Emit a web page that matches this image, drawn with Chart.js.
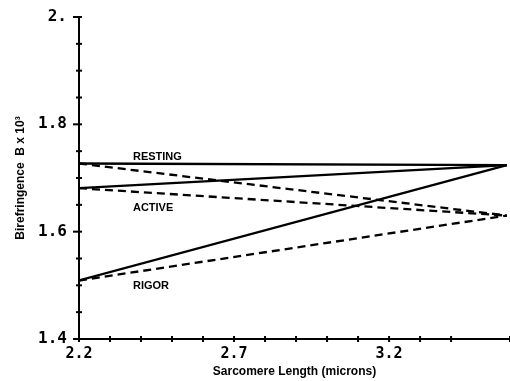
<!DOCTYPE html>
<html>
<head>
<meta charset="utf-8">
<script src="https://cdn.jsdelivr.net/npm/chart.js@4"></script>
<style>
  html, body { margin: 0; padding: 0; background: #fff; }
  canvas { display: block; }
</style>
</head>
<body>
<canvas id="chart" width="510" height="381"></canvas>
<script>
// sarcomere length (microns) at the two ends of each line
const xValues = [2.2, 3.58];

// birefringence (B x 10^3)
const restingSolid = [1.727, 1.724];
const restingDashed = [1.727, 1.630];
const activeSolid = [1.681, 1.724];
const activeDashed = [1.681, 1.630];
const rigorSolid = [1.509, 1.724];
const rigorDashed = [1.509, 1.630];

const yMajorTicks = [1.4, 1.6, 1.8, 2.0];
const yTickLabels = ["1.4", "1.6", "1.8", "2."];
const xMajorTicks = [2.2, 2.7, 3.2];
const xTickLabels = ["2.2", "2.7", "3.2"];

const curveNames = ["RESTING", "ACTIVE", "RIGOR"];
const curveLabelX = [2.374, 2.374, 2.374];
const curveLabelY = [1.739, 1.644, 1.498];

function pts(ys) {
    return xValues.map((x, i) => ({ x: x, y: ys[i] }));
}

function line(ys, dashed) {
    return {
        data: pts(ys),
        borderColor: "#000",
        borderWidth: 2.3,
        borderDash: dashed ? [8, 5] : [],
        pointRadius: 0,
        fill: false,
        showLine: true
    };
}

function labelFor(v, majors, labels) {
    for (let i = 0; i < majors.length; i++) {
        if (Math.abs(v - majors[i]) < 1e-6) return labels[i];
    }
    return "";
}

// tick marks that cross the axis line, like the old plotter output
const crossTicks = {
    id: "crossTicks",
    afterDraw(chart) {
        const ctx = chart.ctx;
        const xs = chart.scales.x;
        const ys = chart.scales.y;
        const area = chart.chartArea;
        ctx.save();
        ctx.strokeStyle = "#000";
        ctx.lineWidth = 2;
        ys.ticks.forEach(t => {
            const py = ys.getPixelForValue(t.value);
            const major = labelFor(t.value, yMajorTicks, yTickLabels) !== "";
            ctx.beginPath();
            ctx.moveTo(area.left - (major ? 6 : 3), py);
            ctx.lineTo(area.left + 3, py);
            ctx.stroke();
        });
        xs.ticks.forEach(t => {
            const px = xs.getPixelForValue(t.value);
            ctx.beginPath();
            ctx.moveTo(px, area.bottom - 3);
            ctx.lineTo(px, area.bottom + 3);
            ctx.stroke();
        });
        // curve names
        ctx.fillStyle = "#000";
        ctx.font = "bold 11px 'Liberation Sans', Arial, sans-serif";
        ctx.textBaseline = "middle";
        ctx.textAlign = "left";
        curveNames.forEach((name, i) => {
            ctx.fillText(name, xs.getPixelForValue(curveLabelX[i]), ys.getPixelForValue(curveLabelY[i]));
        });
        ctx.restore();
    }
};

new Chart(document.getElementById("chart"), {
    type: "scatter",
    data: {
        datasets: [
            line(restingSolid, false),
            line(restingDashed, true),
            line(activeSolid, false),
            line(activeDashed, true),
            line(rigorSolid, false),
            line(rigorDashed, true)
        ]
    },
    options: {
        responsive: false,
        animation: false,
        layout: { padding: { top: 17, right: 0, left: 0, bottom: 0 } },
        plugins: {
            legend: { display: false },
            tooltip: { enabled: false }
        },
        scales: {
            x: {
                type: "linear",
                min: 2.2,
                max: 3.59,
                afterFit: (scale) => { scale.height = 42; },
                border: { display: true, color: "#000", width: 2 },
                grid: { display: false },
                ticks: {
                    stepSize: 0.1,
                    autoSkip: false,
                    maxRotation: 0,
                    padding: -2,
                    color: "#000",
                    font: { family: "'DejaVu Sans Mono', monospace", size: 15, weight: "bold" },
                    callback: (v) => labelFor(v, xMajorTicks, xTickLabels)
                },
                title: {
                    display: true,
                    text: "Sarcomere Length (microns)",
                    color: "#000",
                    padding: { top: 0, bottom: 2 },
                    font: { family: "'Liberation Sans', Arial, sans-serif", size: 12, weight: "bold" }
                }
            },
            y: {
                type: "linear",
                min: 1.4,
                max: 2.0,
                afterFit: (scale) => { scale.width = 79; },
                border: { display: true, color: "#000", width: 2 },
                grid: { display: false },
                ticks: {
                    stepSize: 0.05,
                    autoSkip: false,
                    padding: 4,
                    color: "#000",
                    font: { family: "'DejaVu Sans Mono', monospace", size: 16, weight: "bold" },
                    callback: (v) => labelFor(v, yMajorTicks, yTickLabels)
                },
                title: {
                    display: true,
                    text: "Birefringence  B x 10³",
                    color: "#000",
                    padding: { top: 13, bottom: 0 },
                    font: { family: "'Liberation Sans', Arial, sans-serif", size: 12, weight: "bold" }
                }
            }
        }
    },
    plugins: [crossTicks]
});
</script>
</body>
</html>
